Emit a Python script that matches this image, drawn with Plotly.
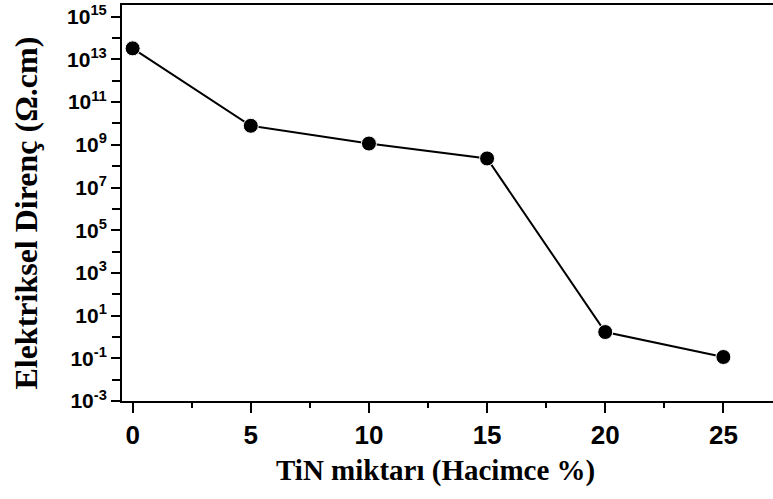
import plotly.graph_objects as go

tin_percent = [0, 5, 10, 15, 20, 25]
resistivity = [3.3e13, 7.8e9, 1.15e9, 2.3e8, 1.7, 0.115]

y_tick_exps = [-3, -1, 1, 3, 5, 7, 9, 11, 13, 15]
y_minor_exps = [-2, 0, 2, 4, 6, 8, 10, 12, 14]
x_ticks = [0, 5, 10, 15, 20, 25]

W, H = 773, 499
L, R, T, B = 121.7, 0, 5, 98.3

fig = go.Figure()
fig.add_trace(go.Scatter(
    x=tin_percent, y=resistivity, mode="lines+markers",
    line=dict(color="black", width=2),
    marker=dict(color="black", size=15, line=dict(color="white", width=1)),
    showlegend=False, cliponaxis=False,
))

fig.update_layout(
    width=W, height=H,
    margin=dict(l=L, r=R, t=T, b=B, autoexpand=False),
    paper_bgcolor="white", plot_bgcolor="white",
    font=dict(family="Liberation Sans, Arial, sans-serif", color="black"),
)

fig.update_xaxes(
    range=[-0.45, 27.1], showgrid=False, zeroline=False,
    showline=True, linecolor="black", linewidth=2, mirror=True,
    ticks="outside", ticklen=10, tickwidth=2, tickcolor="black",
    tickvals=x_ticks, ticktext=[f"<b>{v}</b>" for v in x_ticks],
    tickfont=dict(size=26, family="Liberation Sans, Arial, sans-serif"),
    minor=dict(tickvals=[2.5, 7.5, 12.5, 17.5, 22.5], ticks="outside",
               ticklen=5, tickwidth=2, tickcolor="black"),
)

fig.update_yaxes(
    type="log", range=[-3, 15.55], showgrid=False, zeroline=False,
    showline=True, linecolor="black", linewidth=2, mirror=False,
    ticks="outside", ticklen=9, tickwidth=2, tickcolor="black",
    tickvals=[10.0 ** e for e in y_tick_exps],
    ticktext=[f"<b>10<sup>{e}</sup></b>" for e in y_tick_exps],
    tickfont=dict(size=21, family="Liberation Sans, Arial, sans-serif"),
    minor=dict(tickvals=[10.0 ** e for e in y_minor_exps], ticks="outside",
               ticklen=8, tickwidth=2, tickcolor="black"),
)

fig.add_annotation(
    text="<b>TiN miktarı (Hacimce %)</b>", xref="paper", yref="paper",
    x=0.4818, y=-0.175, showarrow=False, xanchor="center", yanchor="middle",
    font=dict(family="Liberation Serif, Times New Roman, serif", size=29, color="black"),
)
fig.add_annotation(
    text="<b>Elektriksel Direnç (Ω.cm)</b>", xref="paper", yref="paper",
    x=-0.147, y=0.474, showarrow=False, xanchor="center", yanchor="middle",
    textangle=-90,
    font=dict(family="Liberation Serif, Times New Roman, serif", size=32, color="black"),
)

fig.write_html("out.html")
